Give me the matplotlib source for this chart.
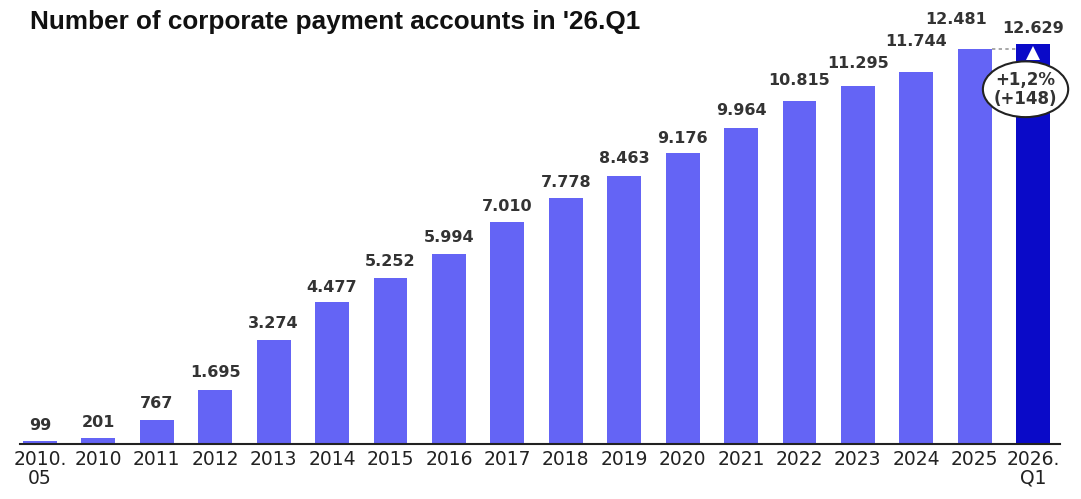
import matplotlib.pyplot as plt
from matplotlib.patches import Ellipse

# account counts per period
periods = ["2010.\n05", "2010", "2011", "2012", "2013", "2014", "2015", "2016", "2017",
           "2018", "2019", "2020", "2021", "2022", "2023", "2024", "2025", "2026.\nQ1"]
accounts = [99, 201, 767, 1695, 3274, 4477, 5252, 5994, 7010,
            7778, 8463, 9176, 9964, 10815, 11295, 11744, 12481, 12629]
labels = ["99", "201", "767", "1.695", "3.274", "4.477", "5.252", "5.994", "7.010",
          "7.778", "8.463", "9.176", "9.964", "10.815", "11.295", "11.744", "12.481", "12.629"]
growth_text = "+1,2%\n(+148)"

bar_color = "#6464f5"
last_color = "#0a0ac8"

# how far each value label sits above its bar (pixels), plus sideways nudge
lift_px = [15, 15, 16, 18, 17, 15, 16, 17, 15, 15, 17, 15, 18, 21, 23, 31, 29, 15]
shift_px = [0] * 16 + [-19, 0]

fig = plt.figure(figsize=(10.81, 4.99), dpi=100)
ax = fig.add_axes([20 / 1081, 55 / 499, 1040 / 1081, 444 / 499])

x = list(range(len(accounts)))
colors = [bar_color] * (len(accounts) - 1) + [last_color]
ax.bar(x, accounts, width=0.58, color=colors, zorder=2)

ax.set_xlim(-0.342, 17.46)
ax.set_ylim(0, 14018)

for xi, v, lab, dy, dx in zip(x, accounts, labels, lift_px, shift_px):
    ax.annotate(lab, (xi, v), xytext=(dx * 0.72, dy * 0.72), textcoords="offset points",
                ha="center", va="center", fontsize=11.5, fontweight="bold",
                color="#333333", family="DejaVu Sans")

# dotted link from last year's level to the latest quarter
ax.plot([16 + 0.29, 17 - 0.29], [accounts[16], accounts[16]], color="#999999",
        linestyle=(0, (2, 2)), linewidth=1.2, zorder=3)
ax.plot(17, accounts[17] - 270, marker="^", color="white", markersize=10,
        markeredgewidth=0, zorder=4)

ell = Ellipse((16.87, 11200), width=1.46, height=1760, facecolor="white",
              edgecolor="#222222", linewidth=1.5, zorder=5, clip_on=False)
ax.add_patch(ell)
ax.text(16.87, 11200, growth_text, ha="center", va="center", fontsize=12,
        fontweight="bold", color="#333333", linespacing=1.05, zorder=6)

ax.set_xticks(x)
ax.set_xticklabels(periods, fontsize=13.5, color="#222222", linespacing=1.0)
ax.tick_params(axis="x", length=0, pad=4)
ax.set_yticks([])
for side in ["left", "right", "top"]:
    ax.spines[side].set_visible(False)
ax.spines["bottom"].set_linewidth(1.5)
ax.spines["bottom"].set_color("#222222")

fig.text(30 / 1081, 1 - 22 / 499, "Number of corporate payment accounts in '26.Q1",
         fontsize=18.8, fontweight="bold", family="Liberation Sans", va="center",
         color="#111111")

fig.savefig("out.png", dpi=100)
